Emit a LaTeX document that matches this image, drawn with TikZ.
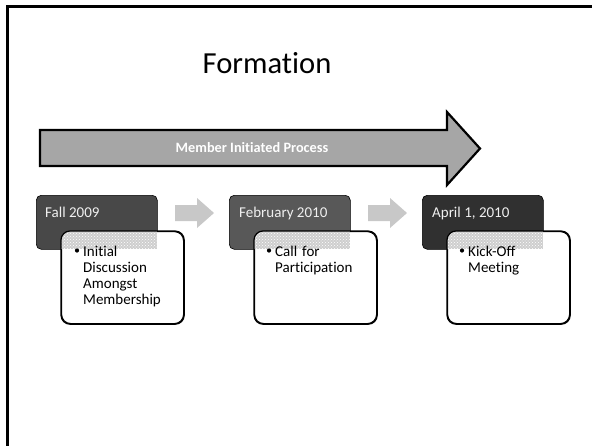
\documentclass[tikz,border=0pt]{standalone}
\usepackage{fontspec}
\setmainfont{Carlito}[Ligatures={NoCommon}]
\usetikzlibrary{patterns}
\definecolor{bigarrow}{RGB}{166,166,166}
\definecolor{smallarrow}{RGB}{200,200,200}
\definecolor{darkA}{RGB}{72,72,72}
\definecolor{darkB}{RGB}{88,88,88}
\definecolor{darkC}{RGB}{48,48,48}
\definecolor{bandgray}{RGB}{206,206,206}
\tikzset{
  darkbox/.style={rounded corners=5pt, draw=black, line width=0.6pt, inner sep=0pt, minimum width=121pt, minimum height=54pt, anchor=north west},
  whitebox/.style={rounded corners=9pt, draw=black, fill=white, line width=1.2pt, inner sep=0pt, minimum width=122pt, minimum height=92pt, anchor=north west},
  datetext/.style={anchor=base west, inner sep=0pt, text=white!94!black, font=\fontsize{15}{18}\selectfont},
  itemtext/.style={anchor=base west, inner sep=0pt, align=left, font=\fontsize{15}{16.3}\selectfont},
  bullet/.style={circle, fill=black, inner sep=0pt, minimum size=4.2pt},
  stepfill/.style={fill=smallarrow, draw=none}
}
\begin{document}
\begin{tikzpicture}[x=1pt,y=-1pt]
\useasboundingbox (0,0) rectangle (592,445);
\fill[white] (0,0) rectangle (592,445);
% frame
\draw[line width=2.5pt, line cap=rect] (7.5,446) -- (7.5,6.5) -- (593,6.5);
% title
\node[anchor=base, inner sep=0pt, font=\fontsize{30.6}{36}\selectfont] (title) at (267,73) {Formation};
% big arrow
\draw[fill=bigarrow, line width=2.2pt, line join=miter] (40,130) -- (447,130) -- (447,112) -- (480,148.5) -- (447,185) -- (447,166) -- (40,166) -- cycle;
\node[anchor=center, inner sep=0pt, text=white, font=\bfseries\fontsize{14.3}{17}\selectfont] (bigtext) at (252,148) {Member Initiated Process};
% small arrows
\fill[stepfill] (175,205) -- (197,205) -- (197,198) -- (214,213) -- (197,228) -- (197,221) -- (175,221) -- cycle;
\fill[stepfill] (368,205) -- (390,205) -- (390,198) -- (407,213) -- (390,228) -- (390,221) -- (368,221) -- cycle;
% dark boxes
\node[darkbox, fill=darkA] (d1) at (36,195) {};
\node[darkbox, fill=darkB] (d2) at (229,195) {};
\node[darkbox, fill=darkC] (d3) at (422,195) {};
\node[datetext] (t1) at (45,217) {Fall 2009};
\node[datetext] (t2) at (239,217) {February 2010};
\node[datetext] (t3) at (432,217) {April 1, 2010};
% white boxes
\node[whitebox] (w1) at (61,231) {};
\node[whitebox] (w2) at (254,231) {};
\node[whitebox] (w3) at (447,231) {};
% overlap bands
\begin{scope}
\clip[rounded corners=9pt] (61,231) rectangle (183,323);
\fill[bandgray] (61,231) rectangle (157,249);
\fill[pattern=crosshatch dots, pattern color=white] (61,231) rectangle (157,249);
\end{scope}
\begin{scope}
\clip[rounded corners=9pt] (254,231) rectangle (376,323);
\fill[bandgray] (254,231) rectangle (350,249);
\fill[pattern=crosshatch dots, pattern color=white] (254,231) rectangle (350,249);
\end{scope}
\begin{scope}
\clip[rounded corners=9pt] (447,231) rectangle (569,323);
\fill[bandgray] (447,231) rectangle (543,249);
\fill[pattern=crosshatch dots, pattern color=white] (447,231) rectangle (543,249);
\end{scope}
\draw[rounded corners=9pt, line width=1.2pt] (w1.north west) rectangle (w1.south east);
\draw[rounded corners=9pt, line width=1.2pt] (w2.north west) rectangle (w2.south east);
\draw[rounded corners=9pt, line width=1.2pt] (w3.north west) rectangle (w3.south east);
% items
\node[bullet] (b1) at (77,250.5) {};
\node[itemtext, text width=100pt] (i1) at (83,256) {Initial\\Discussion\\Amongst\\Membership};
\node[bullet] (b2) at (269,250.5) {};
\node[itemtext, text width=100pt] (i2) at (275,256) {Call for\\Participation};
\node[bullet] (b3) at (462,250.5) {};
\node[itemtext, text width=100pt] (i3) at (468,256) {Kick-Off\\Meeting};
\end{tikzpicture}
\end{document}
